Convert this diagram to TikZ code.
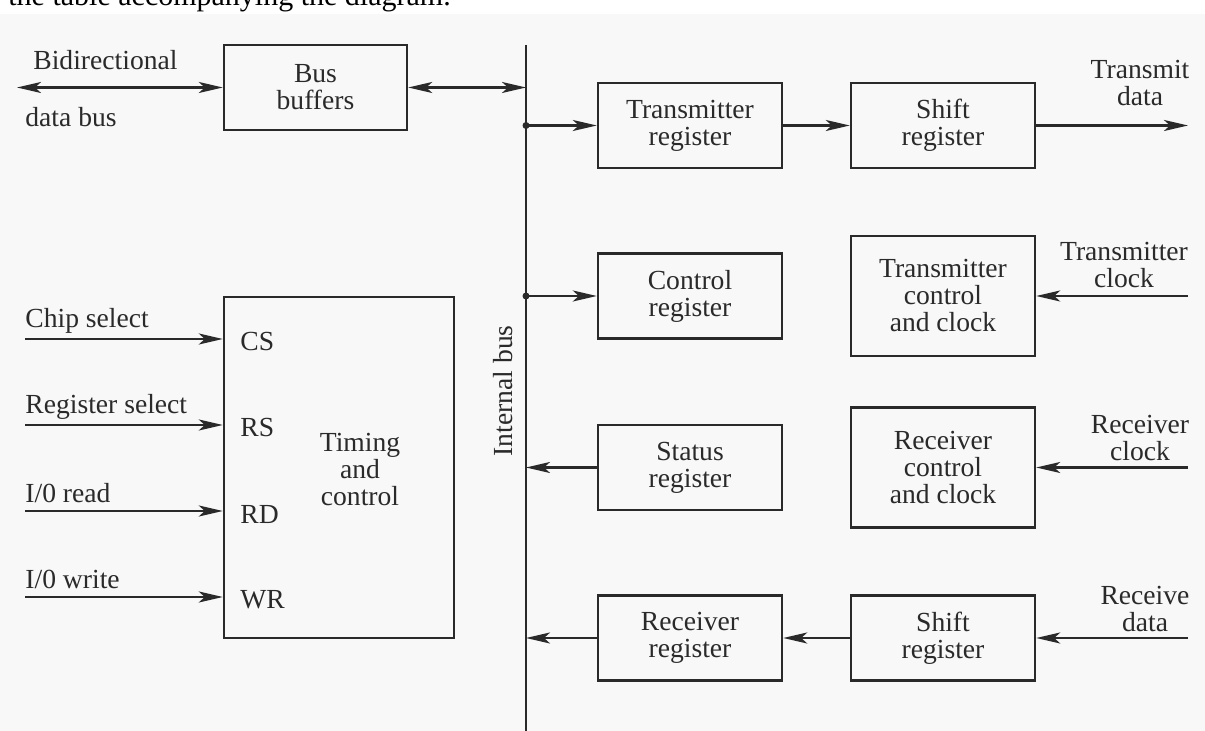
\documentclass[tikz,border=0pt]{standalone}
\usepackage{fontspec}
\setmainfont{Liberation Serif}
\usetikzlibrary{arrows.meta}
\definecolor{ink}{HTML}{2A2A2A}
\definecolor{paper}{HTML}{F8F8F8}
\begin{document}
\begin{tikzpicture}[x=0.5pt,y=-0.5pt,
  every node/.style={font=\fontsize{13.8pt}{13.5pt}\selectfont, text=ink, inner sep=0pt},
  blk/.style={draw=ink, line width=1.2pt, minimum width=92pt, minimum height=42.5pt, align=center},
  tall/.style={blk, minimum height=60pt},
  wire/.style={draw=ink, line width=1.2pt},
  arr/.style={wire, -{Stealth[length=12pt,width=5.5pt,inset=3pt]}},
  darr/.style={wire, {Stealth[length=12pt,width=5.5pt,inset=3pt]}-{Stealth[length=12pt,width=5.5pt,inset=3pt]}},
  clbl/.style={align=center},
  jdot/.style={circle, fill=ink, minimum size=3.5pt, inner sep=0pt}]
\useasboundingbox (0,0) rectangle (1205,731);
\begin{scope}
\clip (0,0) rectangle (1205,731);
\fill[white] (0,0) rectangle (1205,14);
\fill[paper] (0,14) rectangle (1205,731);
\node[anchor=base west, font=\fontsize{15pt}{18pt}\selectfont, text=black] (toptext) at (8,6) {the table accompanying the diagram.};
\end{scope}

% blocks
\node[blk, minimum width=91.5pt] (bb) at (315.5,87.5) {Bus\\buffers};
\node[blk, minimum width=115pt, minimum height=170.5pt] (tc) at (339,467.5) {};
\node[align=center] (tct) at (360,470) {Timing\\and\\control};
\node[blk] (tr) at (690,125.5) {Transmitter\\register};
\node[blk] (sr1) at (943,125.5) {Shift\\register};
\node[blk] (cr) at (690,296) {Control\\register};
\node[tall] (tcc) at (943,296) {Transmitter\\control\\and clock};
\node[blk] (st) at (690,467.5) {Status\\register};
\node[tall] (rcc) at (943,467.5) {Receiver\\control\\and clock};
\node[blk] (rr) at (690,638) {Receiver\\register};
\node[blk] (sr2) at (943,638) {Shift\\register};

% internal bus
\coordinate (bustop) at (526,45);
\coordinate (busbot) at (526,731);
\draw[wire] (bustop) -- (busbot);
\node[rotate=90] (ib) at (503,391) {Internal bus};

\coordinate (jb) at (bb.east -| bustop);
\coordinate (j1) at (tr.west -| bustop);
\coordinate (j2) at (cr.west -| bustop);
\coordinate (j3) at (st.west -| bustop);
\coordinate (j4) at (rr.west -| bustop);
\node[jdot] (d1) at (j1) {};
\node[jdot] (d2) at (j2) {};

\draw[darr] (bb.east) -- (jb);
\draw[arr] (j1) -- (tr.west);
\draw[arr] (j2) -- (cr.west);
\draw[arr] (st.west) -- (j3);
\draw[arr] (rr.west) -- (j4);
\draw[arr] (tr) -- (sr1);
\draw[arr] (sr2) -- (rr);

% external signals right
\coordinate (txd) at (1188,125.5);
\coordinate (tclk) at (1188,296);
\coordinate (rclk) at (1188,467.5);
\coordinate (rxd) at (1188,638);
\draw[arr] (sr1.east) -- (txd);
\draw[arr] (tclk) -- (tcc.east);
\draw[arr] (rclk) -- (rcc.east);
\draw[arr] (rxd) -- (sr2.east);
\node[clbl] (ltx) at (1140,83) {Transmit\\data};
\node[clbl] (ltc) at (1124,265) {Transmitter\\clock};
\node[clbl] (lrc) at (1140,438) {Receiver\\clock};
\node[clbl] (lrx) at (1145,609) {Receive\\data};

% bidirectional data bus
\coordinate (bdl) at (17,87.5);
\draw[darr] (bdl) -- (bb.west);
\node[anchor=west] (lbd) at (33,60) {Bidirectional};
\node[anchor=west] (ldb) at (25,117) {data bus};

% inputs to timing and control
\coordinate (csin) at (25,339);
\coordinate (rsin) at (25,425);
\coordinate (rdin) at (25,511);
\coordinate (wrin) at (25,597);
\draw[arr] (csin) -- (csin -| tc.west);
\draw[arr] (rsin) -- (rsin -| tc.west);
\draw[arr] (rdin) -- (rdin -| tc.west);
\draw[arr] (wrin) -- (wrin -| tc.west);
\node[anchor=west] (lcs) at (25,321) {Chip select};
\node[anchor=west] (lrs) at (25,407) {Register select};
\node[anchor=west] (lrd) at (25,493) {I/0 read};
\node[anchor=west] (lwr) at (25,579) {I/0 write};
\node[anchor=west] (pcs) at (240,342) {CS};
\node[anchor=west] (prs) at (240,428) {RS};
\node[anchor=west] (prd) at (240,514) {RD};
\node[anchor=west] (pwr) at (240,600) {WR};
\end{tikzpicture}
\end{document}
